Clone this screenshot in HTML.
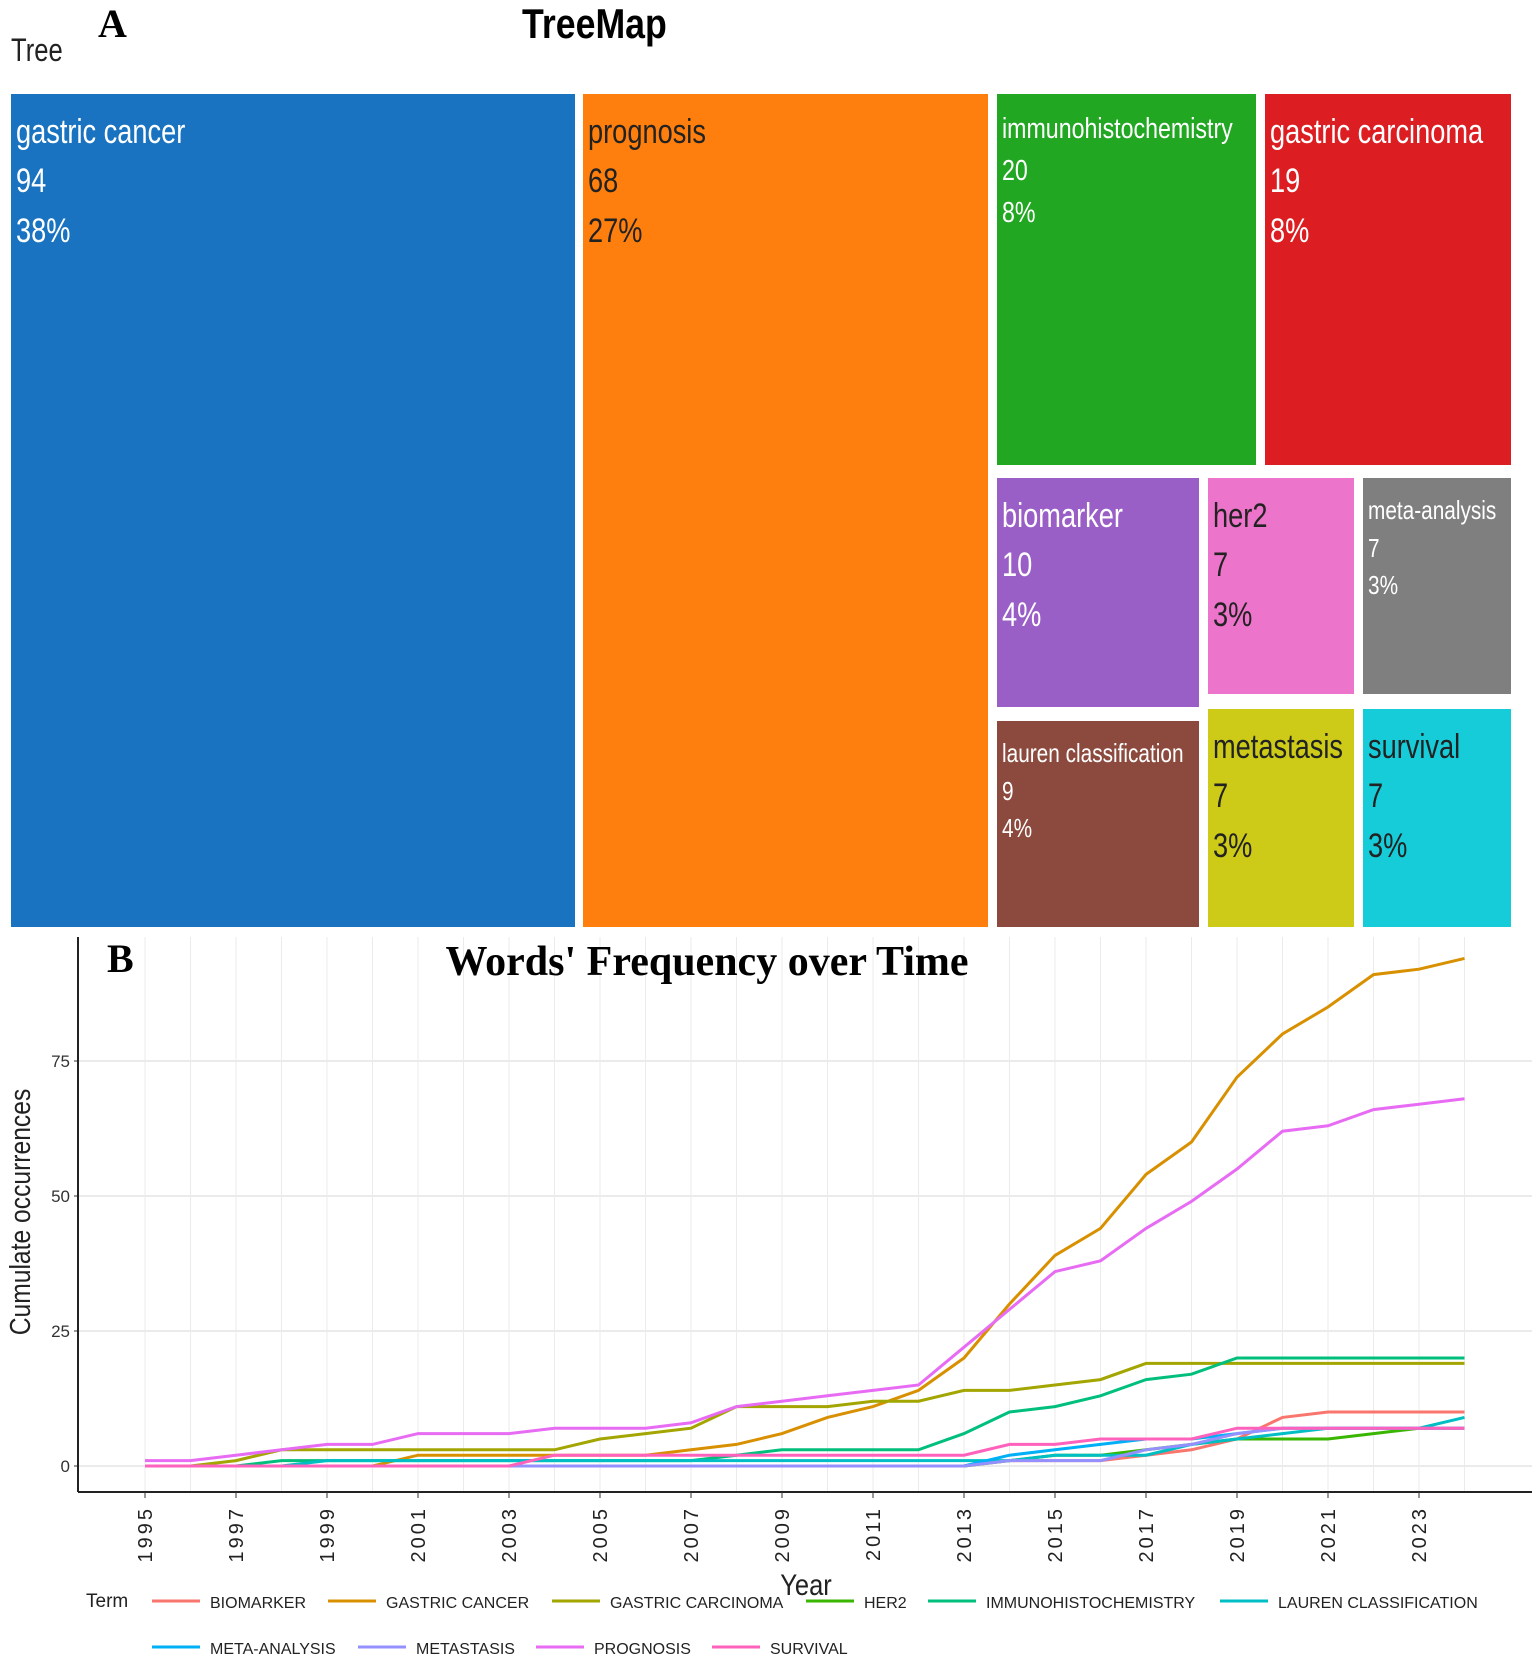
<!DOCTYPE html>
<html><head><meta charset="utf-8">
<style>
body{margin:0;width:1535px;height:1656px;background:#fff;position:relative;overflow:hidden;font-family:"Liberation Sans",sans-serif}
.t{position:absolute;box-sizing:border-box;font-family:"Liberation Sans",sans-serif;padding:14px 0 0 5px;line-height:1.45;white-space:nowrap;overflow:hidden}
.t span{display:inline-block;transform:scaleX(0.8);transform-origin:left top}
.abs{position:absolute}
</style></head><body>
<div class="abs" style="left:98px;top:0;font:bold 40px 'Liberation Serif',serif">A</div>
<div class="abs" style="left:522px;top:0;font:bold 42px 'Liberation Sans',sans-serif;transform:scaleX(0.85);transform-origin:left top">TreeMap</div>
<div class="abs" style="left:11px;top:32px;font:32px 'Liberation Sans',sans-serif;color:#222;transform:scaleX(0.8);transform-origin:left top">Tree</div>
<div id="tm"></div>
<svg id="chart" class="abs" style="left:0;top:0" width="1535" height="1656"></svg>
<script>
const tmLabels=["gastric cancer","prognosis","immunohistochemistry","gastric carcinoma","biomarker","her2","meta-analysis","lauren classification","metastasis","survival"];
const tmCounts=[94,68,20,19,10,7,7,9,7,7];
const tmPct=["38%","27%","8%","8%","4%","3%","3%","4%","3%","3%"];
const tmBox=[[11,94,575,927,"#1a73c0","#fff",34],[583,94,988,927,"#fe7f0e","#222",34],[997,94,1256,465,"#22a723","#fff",29],[1265,94,1511,465,"#dc1e22","#fff",34],[997,478,1199,707,"#9a5fc6","#fff",34],[1208,478,1354,694,"#ec74ca","#222",34],[1363,478,1511,694,"#7f7f7f","#fff",26],[997,721,1199,927,"#8c4a3e","#fff",26],[1208,709,1354,927,"#cdcb18","#222",34],[1363,709,1511,927,"#16ccd9","#222",34]];
const tm=document.getElementById('tm');
tmBox.forEach((b,i)=>{const d=document.createElement('div');d.className='t';


d.style.cssText=`left:${b[0]}px;top:${b[1]}px;width:${b[2]-b[0]}px;height:${b[3]-b[1]}px;background:${b[4]};color:${b[5]};font-size:${b[6]}px`;
d.innerHTML='<span>'+tmLabels[i]+'<br>'+tmCounts[i]+'<br>'+tmPct[i]+'</span>';tm.appendChild(d);});

const years=[];for(let y=1995;y<=2024;y++)years.push(y);
const terms=["BIOMARKER","GASTRIC CANCER","GASTRIC CARCINOMA","HER2","IMMUNOHISTOCHEMISTRY","LAUREN CLASSIFICATION","META-ANALYSIS","METASTASIS","PROGNOSIS","SURVIVAL"];
const colors=["#F8766D","#D89000","#A3A500","#39B600","#00BF7D","#00BFC4","#00B0F6","#9590FF","#E76BF3","#FF62BC"];
const biomarker=[0,0,0,0,0,0,0,0,0,0,0,0,0,0,0,0,0,0,0,1,1,1,2,3,5,9,10,10,10,10];
const gastricCancer=[0,0,0,0,0,0,2,2,2,2,2,2,3,4,6,9,11,14,20,30,39,44,54,60,72,80,85,91,92,94];
const gastricCarcinoma=[0,0,1,3,3,3,3,3,3,3,5,6,7,11,11,11,12,12,14,14,15,16,19,19,19,19,19,19,19,19];
const her2=[0,0,0,0,0,0,0,0,0,0,0,0,0,0,0,0,0,0,0,1,2,2,3,4,5,5,5,6,7,7];
const ihc=[0,0,0,1,1,1,1,1,1,1,1,1,1,2,3,3,3,3,6,10,11,13,16,17,20,20,20,20,20,20];
const lauren=[0,0,0,0,1,1,1,1,1,1,1,1,1,1,1,1,1,1,1,1,2,2,2,4,5,6,7,7,7,9];
const metaAnalysis=[0,0,0,0,0,0,0,0,0,0,0,0,0,0,0,0,0,0,0,2,3,4,5,5,6,7,7,7,7,7];
const metastasis=[0,0,0,0,0,0,0,0,0,0,0,0,0,0,0,0,0,0,0,1,1,1,3,4,6,7,7,7,7,7];
const prognosis=[1,1,2,3,4,4,6,6,6,7,7,7,8,11,12,13,14,15,22,29,36,38,44,49,55,62,63,66,67,68];
const survival=[0,0,0,0,0,0,0,0,0,2,2,2,2,2,2,2,2,2,2,4,4,5,5,5,7,7,7,7,7,7];
const series=[biomarker,gastricCancer,gastricCarcinoma,her2,ihc,lauren,metaAnalysis,metastasis,prognosis,survival];
const yTicks=[0,25,50,75];

const svg=document.getElementById('chart');const NS='http://www.w3.org/2000/svg';
const X=y=>145+(y-1995)*45.5;const Y=v=>1466-v*5.4;
function el(t,a,p){const e=document.createElementNS(NS,t);for(const k in a)e.setAttribute(k,a[k]);(p||svg).appendChild(e);return e;}
const L=78,R=1532,T=937,B=1492;
const g=el('g',{});
years.forEach(y=>el('line',{x1:X(y),x2:X(y),y1:T,y2:B,stroke:'#ebebeb','stroke-width':1},g));
yTicks.forEach(v=>{el('line',{x1:L,x2:R,y1:Y(v),y2:Y(v),stroke:'#ebebeb','stroke-width':2},g);
const t=el('text',{x:L-8,y:Y(v)+6,'text-anchor':'end','font-size':17,fill:'#333'});t.textContent=v;

el('line',{x1:L-4,x2:L,y1:Y(v),y2:Y(v),stroke:'#333'});});
el('line',{x1:L,x2:L,y1:T,y2:B,stroke:'#222','stroke-width':2});
el('line',{x1:L,x2:R,y1:B,y2:B,stroke:'#222','stroke-width':2});
years.filter(y=>y%2==1).forEach(y=>{el('line',{x1:X(y),x2:X(y),y1:B,y2:B+6,stroke:'#333'});
const t=el('text',{x:0,y:0,'text-anchor':'end','font-size':20,fill:'#222','letter-spacing':'3',transform:`translate(${X(y)+7},${B+14}) rotate(-90)`});t.textContent=y;
});
series.forEach((s,i)=>{const p=el('polyline',{points:s.map((v,j)=>X(years[j])+','+Y(v)).join(' '),fill:'none',stroke:colors[i],'stroke-width':3});

});
let t=el('text',{x:107,y:972,'font-size':40,'font-weight':'bold','font-family':'Liberation Serif,serif'});t.textContent='B';

t=el('text',{x:707,y:975,'text-anchor':'middle','font-size':42,'font-weight':'bold','font-family':'Liberation Serif,serif'});t.textContent="Words' Frequency over Time";

t=el('text',{x:0,y:0,'text-anchor':'middle','font-size':29,fill:'#222',transform:'translate(30,1212) rotate(-90) scale(0.85,1)'});t.textContent='Cumulate occurrences';

t=el('text',{x:0,y:0,'text-anchor':'middle','font-size':30,fill:'#222',transform:'translate(806,1595) scale(0.85,1)'});t.textContent='Year';

t=el('text',{x:86,y:1607,'font-size':19,fill:'#222'});t.textContent='Term';

const lx=[152,328,552,806,928,1220,152,358,536,712];
terms.forEach((n,i)=>{const yy=i<6?1601:1647;const lg=el('g',{});

el('line',{x1:lx[i],x2:lx[i]+48,y1:yy,y2:yy,stroke:colors[i],'stroke-width':3},lg);
const tt=el('text',{x:lx[i]+58,y:yy+7,'font-size':16,fill:'#222'},lg);tt.textContent=n;});
</script>
</body></html>
